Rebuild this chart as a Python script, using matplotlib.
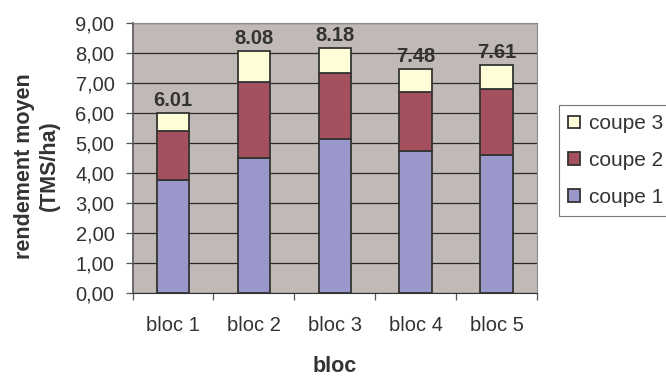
import numpy as np
import matplotlib
matplotlib.use("Agg")
import matplotlib.pyplot as plt

blocs = ["bloc 1", "bloc 2", "bloc 3", "bloc 4", "bloc 5"]
coupe1 = [3.78, 4.52, 5.15, 4.74, 4.60]
coupe2 = [1.64, 2.53, 2.20, 1.98, 2.20]
coupe3 = [0.59, 1.03, 0.83, 0.76, 0.81]
totals = ["6.01", "8.08", "8.18", "7.48", "7.61"]
yticks = np.arange(0, 10, 1)

plt.rcParams['font.family'] = ['Liberation Sans', 'DejaVu Sans']
txt = "#333333"
W, H = 666, 376

fig = plt.figure(figsize=(6.66, 3.76), dpi=100)
ax = fig.add_axes([132.5 / W, 1 - 293.3 / H, 404.5 / W, 270 / H])
ax.set_facecolor("#C1B9B5")

x = np.arange(len(blocs))
c1 = np.array(coupe1)
c2 = np.array(coupe2)
c3 = np.array(coupe3)
kw = dict(width=0.40, edgecolor="#333333", linewidth=1.3, zorder=3)
b1 = ax.bar(x, c1, color="#9A97CA", label="coupe 1", **kw)
b2 = ax.bar(x, c2, bottom=c1, color="#A5505E", label="coupe 2", **kw)
b3 = ax.bar(x, c3, bottom=c1 + c2, color="#FFFDD6", label="coupe 3", **kw)

top = c1 + c2 + c3
for xi, t, s in zip(x, top, totals):
    ax.text(xi, t + 0.1, s, ha="center", va="bottom", fontsize=14.5,
            fontweight="bold", color=txt)

ax.set_xlim(-0.5, len(blocs) - 0.5)
ax.set_ylim(0, 9)
ax.set_yticks(yticks)
ax.set_yticklabels(["%d,00" % v for v in yticks], fontsize=14.5, color=txt)
ax.yaxis.grid(True, color="#2a2a2a", linewidth=0.9, zorder=1)
ax.set_axisbelow(True)

ax.set_xticks(x)
ax.set_xticklabels(blocs, fontsize=14.5, color=txt)
ax.set_xticks(np.arange(-0.5, len(blocs), 1), minor=True)
ax.tick_params(axis="x", which="major", length=0, pad=16)
ax.tick_params(axis="x", which="minor", length=5, width=0.9, color="#555555")
ax.tick_params(axis="y", length=5, width=0.9, color="#555555", pad=8)

for side in ["top", "right"]:
    ax.spines[side].set_color("#8a8a8a")
ax.spines["bottom"].set_color("#333333")
ax.spines["left"].set_color("#555555")
ax.spines["left"].set_linewidth(1.2)

fig.text(335 / W, 1 - 366 / H, "bloc", fontsize=15.5, fontweight="bold",
         color=txt, ha="center", va="center")
fig.text(37 / W, 1 - 166 / H, "rendement moyen\n(TMS/ha)", fontsize=15.5,
         fontweight="bold", color=txt, rotation=90, ha="center", va="center",
         multialignment="center", linespacing=1.2)

h = [b3, b2, b1]
leg = fig.legend(h, [b.get_label() for b in h], loc="upper left",
                 bbox_to_anchor=(559 / W, 1 - 105 / H), borderaxespad=0,
                 frameon=True, fancybox=False, fontsize=15, handlelength=0.55,
                 handleheight=0.55, handletextpad=0.45, labelspacing=0.85,
                 borderpad=0.45)
leg.get_frame().set_edgecolor("#555555")
leg.get_frame().set_linewidth(0.8)
for t in leg.get_texts():
    t.set_color(txt)

fig.savefig("out.png", dpi=100)
